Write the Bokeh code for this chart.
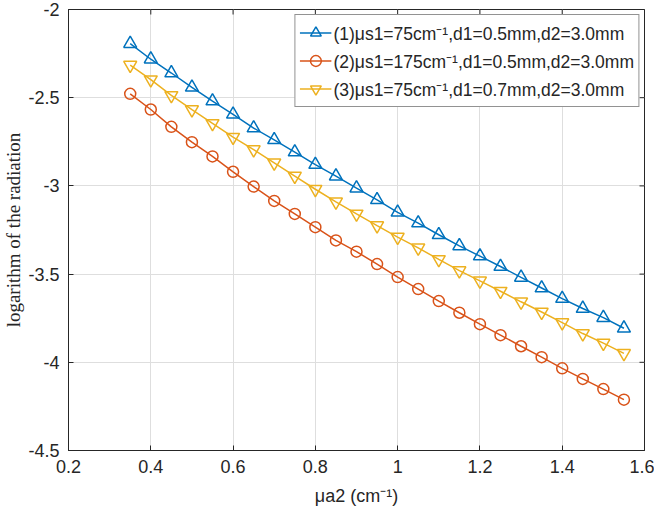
import math
from bokeh.plotting import figure
from bokeh.models import Range1d, FixedTicker, Legend, LegendItem
from bokeh.embed import file_html
from bokeh.resources import INLINE

# ---- data ----
mua2 = [0.35, 0.40, 0.45, 0.50, 0.55, 0.60, 0.65, 0.70, 0.75, 0.80, 0.85, 0.90, 0.95,
        1.00, 1.05, 1.10, 1.15, 1.20, 1.25, 1.30, 1.35, 1.40, 1.45, 1.50, 1.55]
series1 = [-2.194, -2.282, -2.360, -2.441, -2.519, -2.594, -2.672, -2.739, -2.808, -2.879,
           -2.945, -3.013, -3.079, -3.150, -3.211, -3.277, -3.340, -3.398, -3.457, -3.519,
           -3.579, -3.639, -3.695, -3.747, -3.807]
series2 = [-2.478, -2.567, -2.665, -2.752, -2.833, -2.920, -3.004, -3.085, -3.159, -3.234,
           -3.309, -3.373, -3.443, -3.517, -3.585, -3.653, -3.719, -3.784, -3.846, -3.909,
           -3.971, -4.034, -4.094, -4.152, -4.212]
series3 = [-2.315, -2.398, -2.487, -2.567, -2.646, -2.724, -2.794, -2.869, -2.944, -3.019,
           -3.090, -3.159, -3.225, -3.290, -3.351, -3.417, -3.480, -3.538, -3.597, -3.657,
           -3.715, -3.775, -3.837, -3.891, -3.949]
labels = ["(1)\u03bcs1=75cm\u207b\u00b9,d1=0.5mm,d2=3.0mm",
          "(2)\u03bcs1=175cm\u207b\u00b9,d1=0.5mm,d2=3.0mm",
          "(3)\u03bcs1=75cm\u207b\u00b9,d1=0.7mm,d2=3.0mm"]
x_ticks = [0.2, 0.4, 0.6, 0.8, 1.0, 1.2, 1.4, 1.6]
x_tick_labels = ["0.2", "0.4", "0.6", "0.8", "1", "1.2", "1.4", "1.6"]
y_ticks = [-4.5, -4.0, -3.5, -3.0, -2.5, -2.0]
y_tick_labels = ["-4.5", "-4", "-3.5", "-3", "-2.5", "-2"]
x_title = "\u03bca2 (cm\u207b\u00b9)"
y_title = "logarithm of the radiation"

colors = ["#0072BD", "#D95319", "#EDB120"]
markers = ["triangle", "circle", "inverted_triangle"]
msizes = [13, 11, 13]

p = figure(frame_width=576, frame_height=441, output_backend="svg", toolbar_location=None,
           x_range=Range1d(x_ticks[0], x_ticks[-1]), y_range=Range1d(y_ticks[0], y_ticks[-1]),
           min_border_left=64, min_border_right=10, min_border_top=9, min_border_bottom=62,
           background_fill_color="white", border_fill_color="white")
p.outline_line_color = "#262626"
p.outline_line_width = 1

tick_font = "Liberation Sans"
for ax in (p.xaxis[0], p.yaxis[0]):
    ax.axis_line_color = "#262626"
    ax.major_tick_line_color = "#262626"
    ax.major_tick_in = 5
    ax.major_tick_out = 0
    ax.minor_tick_line_color = None
    ax.major_label_text_font = tick_font
    ax.major_label_text_font_size = "18px"
    ax.major_label_text_color = "#262626"
    ax.axis_label_text_color = "#262626"
    ax.axis_label_text_font_style = "normal"

p.xaxis.ticker = FixedTicker(ticks=x_ticks)
p.xaxis.major_label_overrides = dict(zip(x_ticks, x_tick_labels))
p.yaxis.ticker = FixedTicker(ticks=y_ticks)
p.yaxis.major_label_overrides = dict(zip(y_ticks, y_tick_labels))
p.xaxis.major_label_standoff = 9
p.yaxis.major_label_standoff = 9
p.xaxis.axis_label = x_title
p.xaxis.axis_label_text_font = tick_font
p.xaxis.axis_label_text_font_size = "18px"
p.xaxis.axis_label_standoff = 10
p.yaxis.axis_label = y_title
p.yaxis.axis_label_text_font = "Liberation Serif"
p.yaxis.axis_label_text_font_size = "19px"
p.yaxis.axis_label_standoff = 1

p.xgrid.ticker = FixedTicker(ticks=x_ticks)
p.ygrid.ticker = FixedTicker(ticks=y_ticks)
p.grid.grid_line_color = "#dedede"
p.grid.grid_line_width = 1

# mirrored inward ticks on the right and top edges (clipped to the frame)
p.scatter([x_ticks[-1]] * len(y_ticks), y_ticks, marker="dash", size=10,
          line_color="#262626", line_width=1)
p.scatter(x_ticks, [y_ticks[-1]] * len(x_ticks), marker="dash", size=10, angle=math.pi / 2,
          line_color="#262626", line_width=1)

items = []
for ys, c, m, s, lab in zip([series1, series2, series3], colors, markers, msizes, labels):
    r1 = p.line(mua2, ys, line_color=c, line_width=1.5)
    r2 = p.scatter(mua2, ys, marker=m, size=s, line_color=c, fill_color=None, line_width=1.5)
    items.append(LegendItem(label=lab, renderers=[r1, r2]))

legend = Legend(items=items, location="top_right")
legend.border_line_color = "#262626"
legend.border_line_width = 1
legend.background_fill_color = "white"
legend.background_fill_alpha = 1
legend.label_text_font = tick_font
legend.label_text_font_size = "17.5px"
legend.label_text_color = "#262626"
legend.glyph_width = 32
legend.glyph_height = 27
legend.label_height = 27
legend.label_standoff = 2
legend.spacing = 1
legend.padding = 4
legend.margin = 5
p.add_layout(legend)

open("out.html", "w").write(file_html(p, INLINE))
